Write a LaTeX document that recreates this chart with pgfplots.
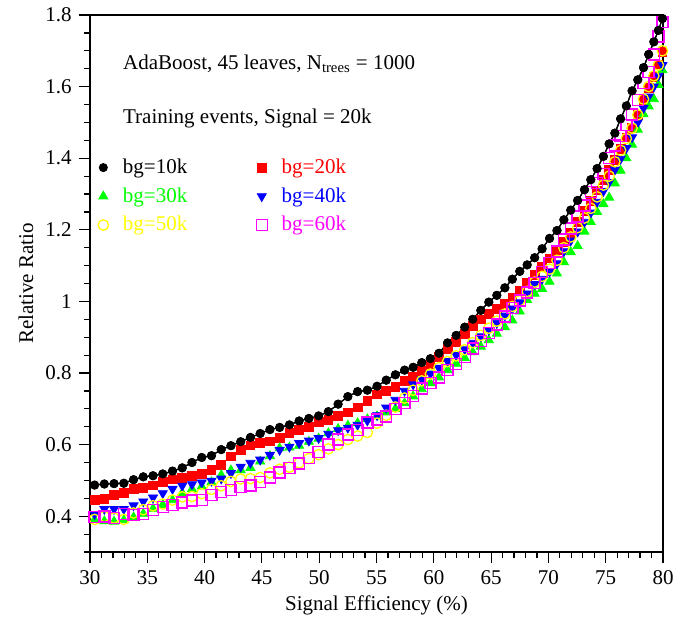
\documentclass[border=0pt]{standalone}
\usepackage{fontspec}
\setmainfont{Liberation Serif}
\usepackage{pgfplots}
\usepackage{pgfplotstable}
\pgfplotsset{compat=1.18}

\definecolor{rgreen}{RGB}{0,255,0}
\definecolor{ryellow}{RGB}{255,255,0}
\definecolor{rmagenta}{RGB}{255,0,255}
\definecolor{rblue}{RGB}{0,0,255}
\definecolor{rred}{RGB}{255,0,0}

% relative ratio vs signal efficiency, one column per background sample size
\pgfplotstableread{
x     k10   k20   k30   k40   k50   k60
30.40 0.487 0.445 0.390 0.406 0.391 0.398
31.25 0.490 0.449 0.386 0.420 0.399 0.399
32.10 0.491 0.459 0.385 0.420 0.395 0.395
32.95 0.492 0.466 0.389 0.420 0.391 0.407
33.80 0.502 0.477 0.397 0.430 0.409 0.403
34.65 0.510 0.479 0.407 0.441 0.418 0.407
35.50 0.513 0.486 0.421 0.452 0.429 0.417
36.35 0.518 0.495 0.432 0.464 0.434 0.425
37.20 0.526 0.503 0.445 0.476 0.445 0.431
38.05 0.535 0.507 0.465 0.485 0.454 0.438
38.90 0.550 0.512 0.476 0.489 0.455 0.444
39.75 0.564 0.519 0.483 0.494 0.463 0.446
40.60 0.569 0.529 0.495 0.499 0.475 0.459
41.45 0.586 0.544 0.515 0.505 0.485 0.468
42.30 0.597 0.567 0.528 0.520 0.497 0.474
43.15 0.608 0.586 0.529 0.538 0.504 0.481
44.00 0.620 0.598 0.535 0.549 0.505 0.486
44.85 0.631 0.605 0.553 0.558 0.508 0.495
45.70 0.642 0.609 0.568 0.571 0.521 0.508
46.55 0.648 0.618 0.590 0.585 0.531 0.522
47.40 0.655 0.632 0.592 0.594 0.537 0.535
48.25 0.666 0.641 0.597 0.604 0.549 0.547
49.10 0.673 0.650 0.608 0.611 0.561 0.562
49.95 0.680 0.663 0.617 0.618 0.572 0.580
50.80 0.692 0.669 0.632 0.630 0.588 0.600
51.65 0.713 0.680 0.644 0.640 0.600 0.614
52.50 0.734 0.690 0.653 0.647 0.614 0.628
53.35 0.748 0.704 0.660 0.655 0.624 0.640
54.20 0.752 0.722 0.671 0.667 0.634 0.662
55.05 0.763 0.740 0.679 0.682 0.660 0.670
55.85 0.780 0.750 0.690 0.703 0.682 0.678
56.65 0.795 0.762 0.700 0.725 0.705 0.700
57.45 0.808 0.778 0.716 0.750 0.730 0.717
58.20 0.816 0.790 0.735 0.768 0.752 0.735
58.95 0.829 0.806 0.755 0.782 0.778 0.757
59.70 0.840 0.825 0.772 0.798 0.797 0.772
60.45 0.855 0.845 0.788 0.814 0.815 0.787
61.20 0.884 0.867 0.808 0.833 0.832 0.808
61.95 0.905 0.886 0.826 0.850 0.848 0.825
62.70 0.928 0.910 0.842 0.866 0.865 0.844
63.40 0.950 0.932 0.858 0.884 0.885 0.868
64.10 0.975 0.950 0.874 0.902 0.905 0.890
64.80 0.998 0.965 0.892 0.920 0.925 0.912
65.50 1.017 0.978 0.910 0.940 0.945 0.935
66.20 1.038 0.993 0.928 0.960 0.965 0.958
66.85 1.062 1.010 0.947 0.980 0.986 0.982
67.50 1.084 1.030 0.972 0.997 1.002 1.003
68.15 1.102 1.052 1.004 1.022 1.028 1.025
68.80 1.122 1.073 1.022 1.048 1.054 1.052
69.45 1.147 1.096 1.035 1.063 1.070 1.082
70.10 1.176 1.120 1.055 1.083 1.090 1.107
70.75 1.198 1.143 1.078 1.106 1.115 1.139
71.35 1.228 1.166 1.110 1.140 1.150 1.173
71.95 1.255 1.192 1.138 1.170 1.180 1.204
72.55 1.282 1.222 1.155 1.195 1.206 1.237
73.15 1.312 1.253 1.195 1.222 1.233 1.268
73.70 1.340 1.281 1.222 1.248 1.260 1.305
74.25 1.371 1.310 1.250 1.278 1.292 1.330
74.80 1.405 1.340 1.272 1.308 1.325 1.356
75.30 1.440 1.368 1.290 1.333 1.350 1.400
75.80 1.470 1.395 1.330 1.368 1.390 1.435
76.30 1.510 1.425 1.365 1.398 1.422 1.462
76.80 1.546 1.458 1.400 1.428 1.455 1.493
77.30 1.588 1.484 1.438 1.458 1.484 1.522
77.80 1.619 1.521 1.480 1.500 1.521 1.562
78.30 1.653 1.562 1.523 1.540 1.565 1.610
78.75 1.690 1.597 1.545 1.572 1.600 1.640
79.20 1.725 1.628 1.565 1.600 1.630 1.690
79.60 1.757 1.662 1.605 1.630 1.660 1.740
79.95 1.790 1.698 1.646 1.660 1.700 1.780
}\ratios

\begin{document}
\begin{tikzpicture}
\fontsize{10.5}{12.5}\selectfont
\begin{axis}[
    scale only axis,
    width=286.5pt, height=268.5pt,
    xmin=30, xmax=80,
    ymin=0.3, ymax=1.8,
    xtick={30,35,...,80},
    ytick={0.4,0.6,0.8,1,1.2,1.4,1.6,1.8},
    minor xtick={30,31,...,80},
    minor ytick={0.3,0.35,0.4,0.45,0.5,0.55,0.6,0.65,0.7,0.75,0.8,0.85,0.9,0.95,1,1.05,1.1,1.15,1.2,1.25,1.3,1.35,1.4,1.45,1.5,1.55,1.6,1.65,1.7,1.75,1.8},
    tick align=outside,
    xtick pos=bottom, ytick pos=left,
    major tick length=5.5pt, minor tick length=2.75pt,
    axis line style={line width=0.7pt},
    every tick/.style={black, line width=0.6pt},
    tick label style={font=\fontsize{10.5}{12}\selectfont},
    /pgf/number format/assume math mode=true,
    xlabel={Signal Efficiency (\%)},
    ylabel={Relative Ratio},
    xlabel style={at={(axis description cs:0.5,-0.0987)}, anchor=center},
    ylabel style={at={(axis description cs:-0.1117,0.5)}, anchor=center},
    legend columns=2,
    legend cell align=left,
    legend image code/.code={\draw[#1, only marks] plot coordinates {(0pt,0pt)};},
    legend style={draw=none, fill=none, at={(rel axis cs:0.003,0.748)}, anchor=north west,
        column sep=5.2pt, row sep=1.5pt,
        /tikz/every even column/.append style={column sep=32.5pt},
        font=\fontsize{10.5}{12}\selectfont},
]
\addplot[black, line width=0.6pt, mark=*, mark size=1.95pt] table[x=x, y=k10] {\ratios};
\addlegendentry{bg=10k}
\addplot[only marks, rred, mark=square*, mark size=2.2pt] table[x=x, y=k20] {\ratios};
\addlegendentry{\textcolor{rred}{bg=20k}}
\addplot[only marks, rgreen, mark=triangle*, mark size=2.6pt] table[x=x, y=k30] {\ratios};
\addlegendentry{\textcolor{rgreen}{bg=30k}}
\addplot[only marks, rblue, mark=triangle*, mark size=2.6pt, mark options={rotate=180}] table[x=x, y=k40] {\ratios};
\addlegendentry{\textcolor{rblue}{bg=40k}}
\addplot[only marks, ryellow, mark=o, mark size=2.6pt, mark options={line width=0.65pt}] table[x=x, y=k50] {\ratios};
\addlegendentry{\textcolor{ryellow}{bg=50k}}
\addplot[only marks, rmagenta, mark=square, mark size=2.75pt, mark options={line width=0.7pt}] table[x=x, y=k60] {\ratios};
\addlegendentry{\textcolor{rmagenta}{bg=60k}}
\addplot[black, line width=0.6pt, mark=*, mark size=1.95pt, forget plot] table[x=x, y=k10] {\ratios};

\node[anchor=base west, inner sep=0pt] at (rel axis cs:0.0571,0.8994) {AdaBoost, 45 leaves, N\textsubscript{trees} = 1000};
\node[anchor=base west, inner sep=0pt] at (rel axis cs:0.0571,0.7983) {Training events, Signal = 20k};
\end{axis}
\path ([shift={(-45pt,-33.5pt)}]current axis.south west) rectangle ([shift={(14pt,7.5pt)}]current axis.north east);
\end{tikzpicture}
\end{document}
